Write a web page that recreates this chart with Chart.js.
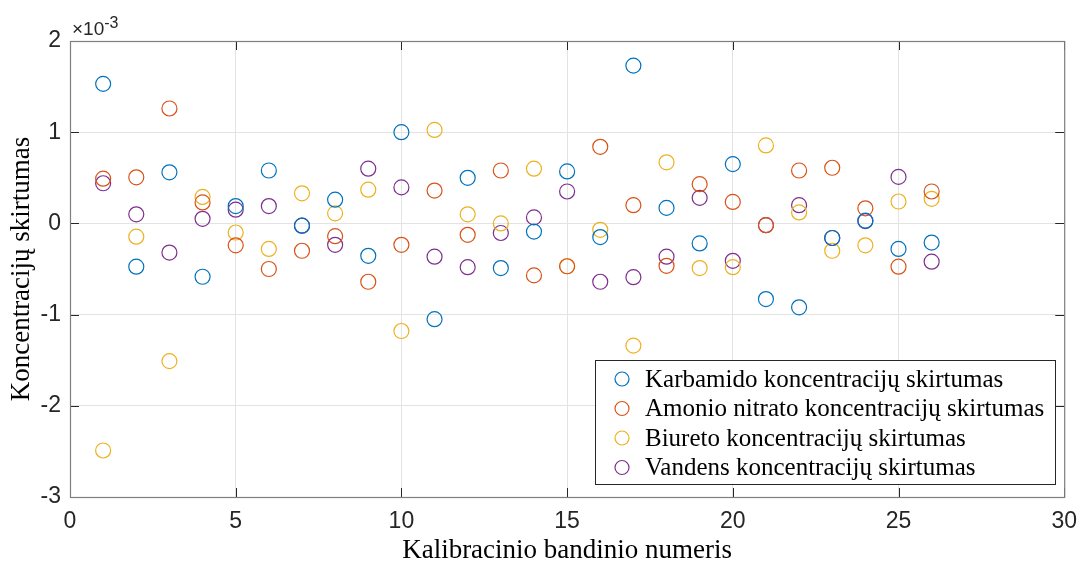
<!DOCTYPE html>
<html>
<head>
<meta charset="utf-8">
<script src="https://cdn.jsdelivr.net/npm/chart.js@4.4.0/dist/chart.umd.min.js"></script>
<style>
  html, body { margin: 0; padding: 0; background: #fff; }
  #wrap { width: 1088px; height: 568px; }
</style>
</head>
<body>
<div id="wrap"><canvas id="chart" width="1088" height="568"></canvas></div>
<script>
// Kalibracinio bandinio numeriai 1..26
const bandiniai = [1,2,3,4,5,6,7,8,9,10,11,12,13,14,15,16,17,18,19,20,21,22,23,24,25,26];

// skirtumai, x10^-3
const karbamidas = [1.53,-0.475,0.56,-0.585,0.19,0.58,-0.025,0.26,-0.355,1.0,-1.05,0.50,-0.49,-0.09,0.57,-0.15,1.73,0.17,-0.22,0.65,-0.83,-0.92,-0.16,0.03,-0.28,-0.21];
const amonioNitratas = [0.49,0.505,1.26,0.23,-0.24,-0.50,-0.30,-0.14,-0.64,-0.235,0.36,-0.125,0.58,-0.57,-0.47,0.84,0.20,-0.465,0.43,0.235,-0.02,0.58,0.61,0.165,-0.475,0.35];
const biuretas = [-2.49,-0.146,-1.51,0.29,-0.10,-0.28,0.33,0.11,0.37,-1.18,1.025,0.10,0.0,0.60,-0.47,-0.07,-1.34,0.67,-0.49,-0.48,0.855,0.12,-0.30,-0.24,0.24,0.27];
const vanduo = [0.44,0.10,-0.32,0.05,0.15,0.19,-0.025,-0.235,0.60,0.395,-0.365,-0.48,-0.105,0.066,0.35,-0.64,-0.59,-0.365,0.28,-0.41,-0.02,0.20,-0.16,0.026,0.51,-0.42];

const serijos = [
  { label: 'Karbamido koncentracijų skirtumas', data: karbamidas, color: '#0072BD' },
  { label: 'Amonio nitrato koncentracijų skirtumas', data: amonioNitratas, color: '#D95319' },
  { label: 'Biureto koncentracijų skirtumas', data: biuretas, color: '#EDB120' },
  { label: 'Vandens koncentracijų skirtumas', data: vanduo, color: '#7E2F8E' }
];

const xTicks = [0,5,10,15,20,25,30];
const yTicks = [-3,-2,-1,0,1,2];

const CHART_L = 70, CHART_T = 41, CHART_R = 1067, CHART_B = 497;
const SERIF = '"Liberation Serif", "Times New Roman", serif';
const SANS = '"Liberation Sans", Arial, sans-serif';

// remelis, vidines zymes, x10^-3 ir legenda (MATLAB stilius)
const matlabBox = {
  id: 'matlabBox',
  afterDraw(chart) {
    const ctx = chart.ctx;
    const a = chart.chartArea;
    const xs = chart.scales.x, ys = chart.scales.y;
    ctx.save();
    ctx.strokeStyle = '#262626';
    ctx.lineWidth = 1;
    xTicks.forEach(v => {
      const px = Math.round(xs.getPixelForValue(v)) + 0.5;
      ctx.beginPath();
      ctx.moveTo(px, a.bottom); ctx.lineTo(px, a.bottom - 9);
      ctx.moveTo(px, a.top); ctx.lineTo(px, a.top + 9);
      ctx.stroke();
    });
    yTicks.forEach(v => {
      const py = Math.round(ys.getPixelForValue(v)) + 0.5;
      ctx.beginPath();
      ctx.moveTo(a.left, py); ctx.lineTo(a.left + 9, py);
      ctx.moveTo(a.right, py); ctx.lineTo(a.right - 9, py);
      ctx.stroke();
    });
    ctx.strokeStyle = '#7f7f7f';
    ctx.lineWidth = 1.2;
    ctx.strokeRect(a.left + 0.5, a.top + 0.5, a.right - a.left, a.bottom - a.top);

    // daugiklis
    ctx.fillStyle = '#262626';
    ctx.textBaseline = 'alphabetic';
    ctx.textAlign = 'left';
    ctx.font = '19px ' + SANS;
    ctx.fillText('\u00d710', 72, 35);
    const w = ctx.measureText('\u00d710').width;
    ctx.font = '16px ' + SANS;
    ctx.fillText('-3', 72 + w, 28);

    // legenda
    const lx = 595, ly = 360, lw = 460, lh = 124;
    ctx.fillStyle = '#fff';
    ctx.fillRect(lx, ly, lw, lh);
    ctx.strokeStyle = '#262626';
    ctx.lineWidth = 1;
    ctx.strokeRect(lx + 0.5, ly + 0.5, lw, lh);
    ctx.font = '25px ' + SERIF;
    ctx.textBaseline = 'middle';
    chart.data.datasets.forEach((ds, i) => {
      const rowY = 379 + i * 29.5;
      ctx.beginPath();
      ctx.strokeStyle = ds.borderColor;
      ctx.lineWidth = 1.2;
      ctx.arc(622, rowY, 7, 0, Math.PI * 2);
      ctx.stroke();
      ctx.fillStyle = '#000';
      ctx.fillText(ds.label, 645, rowY + 1);
    });
    ctx.restore();
  }
};

new Chart(document.getElementById('chart'), {
  type: 'scatter',
  data: {
    datasets: serijos.map(s => ({
      label: s.label,
      data: s.data.map((v, i) => ({ x: bandiniai[i], y: v })),
      borderColor: s.color,
      backgroundColor: 'rgba(0,0,0,0)',
      pointRadius: 7.5,
      pointHoverRadius: 7.5,
      pointBorderWidth: 1.2
    }))
  },
  options: {
    responsive: false,
    animation: false,
    layout: { padding: { left: 0, top: CHART_T, right: 1088 - CHART_R, bottom: 0 } },
    plugins: {
      legend: { display: false },
      tooltip: { enabled: false }
    },
    scales: {
      x: {
        type: 'linear',
        min: 0, max: 30,
        afterFit: s => { s.height = 568 - CHART_B; },
        afterBuildTicks: s => { s.ticks = xTicks.map(v => ({ value: v })); },
        grid: { color: '#e3e3e3', drawTicks: false },
        border: { display: false },
        ticks: { color: '#262626', padding: 11, font: { family: SANS, size: 23 } },
        title: {
          display: true,
          text: 'Kalibracinio bandinio numeris',
          color: '#000',
          padding: { top: 0, bottom: 1 },
          font: { family: SERIF, size: 27 }
        }
      },
      y: {
        type: 'linear',
        min: -3, max: 2,
        afterFit: s => { s.width = CHART_L; },
        afterBuildTicks: s => { s.ticks = yTicks.map(v => ({ value: v })); },
        grid: { color: '#e3e3e3', drawTicks: false },
        border: { display: false },
        ticks: { color: '#262626', padding: 9, font: { family: SANS, size: 23 } },
        title: {
          display: true,
          text: 'Koncentracijų skirtumas',
          color: '#000',
          padding: { top: 6, bottom: 0 },
          font: { family: SERIF, size: 27 }
        }
      }
    }
  },
  plugins: [matlabBox]
});
</script>
</body>
</html>
